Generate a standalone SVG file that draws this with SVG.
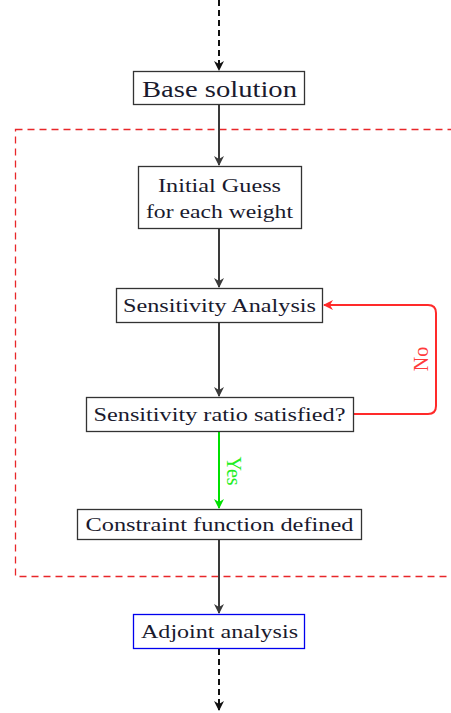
<svg xmlns="http://www.w3.org/2000/svg" width="451" height="713" viewBox="0 0 451 713">
  <style>
    .box { fill: #ffffff; stroke: #333333; stroke-width: 1.3; }
    .box-blue { fill: #ffffff; stroke: #0000ee; stroke-width: 1.3; }
    .label { font-family: "Liberation Serif", "DejaVu Serif", serif; fill: #1a1a2e; text-anchor: middle; }
    .edge { fill: none; stroke: #3a3a3a; stroke-width: 2; }
    .dashed { stroke: #111111; stroke-dasharray: 6 4; }
  </style>
  <defs>
    <marker id="arrow-black" viewBox="0 0 10 10" refX="9" refY="5" markerWidth="10" markerHeight="10" markerUnits="userSpaceOnUse" orient="auto">
      <path d="M0,0 L10,5 L0,10 L3,5 z" fill="#111111"/>
    </marker>
    <marker id="arrow-grey" viewBox="0 0 10 10" refX="9" refY="5" markerWidth="10" markerHeight="10" markerUnits="userSpaceOnUse" orient="auto">
      <path d="M0,0 L10,5 L0,10 L3,5 z" fill="#3a3a3a"/>
    </marker>
    <marker id="arrow-red" viewBox="0 0 10 10" refX="9" refY="5" markerWidth="10" markerHeight="10" markerUnits="userSpaceOnUse" orient="auto">
      <path d="M0,0 L10,5 L0,10 L3,5 z" fill="#ff2a2a"/>
    </marker>
    <marker id="arrow-green" viewBox="0 0 10 10" refX="9" refY="5" markerWidth="10" markerHeight="10" markerUnits="userSpaceOnUse" orient="auto">
      <path d="M0,0 L10,5 L0,10 L3,5 z" fill="#00e000"/>
    </marker>
  </defs>

  <rect width="451" height="713" fill="#ffffff"/>

  <!-- optimisation loop frame -->
  <rect id="loop-frame" x="15.5" y="129.5" width="460" height="447" fill="none" stroke="#e8272a" stroke-width="1.3" stroke-dasharray="7 5"/>

  <g id="connectors">
    <line class="edge dashed" x1="219" y1="0" x2="219" y2="70" marker-end="url(#arrow-black)"/>
    <line class="edge" x1="219" y1="105" x2="219" y2="165" marker-end="url(#arrow-grey)"/>
    <line class="edge" x1="219" y1="229" x2="219" y2="287" marker-end="url(#arrow-grey)"/>
    <line class="edge" x1="219" y1="323" x2="219" y2="396" marker-end="url(#arrow-grey)"/>
    <path d="M354,414 L428,414 Q436,414 436,406 L436,313 Q436,305 428,305 L324,305" fill="none" stroke="#ff2a2a" stroke-width="2" marker-end="url(#arrow-red)"/>
    <line x1="219" y1="432" x2="219" y2="508" stroke="#00e000" stroke-width="2" marker-end="url(#arrow-green)"/>
    <line class="edge" x1="219" y1="539" x2="219" y2="613" marker-end="url(#arrow-grey)"/>
    <line class="edge dashed" x1="219" y1="649" x2="219" y2="710" marker-end="url(#arrow-black)"/>
    <text transform="translate(428,359) rotate(-90)" font-family="Liberation Serif, DejaVu Serif, serif" font-size="20" fill="#ff3b3b" text-anchor="middle">No</text>
    <text transform="translate(227,471) rotate(90)" font-family="Liberation Serif, DejaVu Serif, serif" font-size="20" fill="#22ee22" text-anchor="middle">Yes</text>
  </g>

  <g id="base-solution">
    <rect class="box" x="133.5" y="71.5" width="171" height="33"/>
    <text class="label" x="219.5" y="97" font-size="23" textLength="155" lengthAdjust="spacingAndGlyphs">Base solution</text>
  </g>

  <g id="initial-guess">
    <rect class="box" x="138.5" y="166.5" width="163" height="62"/>
    <text class="label" x="219.5" y="192" font-size="19" textLength="123" lengthAdjust="spacingAndGlyphs">Initial Guess</text>
    <text class="label" x="219.5" y="218" font-size="19" textLength="147" lengthAdjust="spacingAndGlyphs">for each weight</text>
  </g>

  <g id="sensitivity-analysis">
    <rect class="box" x="116.5" y="288.5" width="206" height="34"/>
    <text class="label" x="219.5" y="312" font-size="19" textLength="193" lengthAdjust="spacingAndGlyphs">Sensitivity Analysis</text>
  </g>

  <g id="sensitivity-check">
    <rect class="box" x="86.5" y="397.5" width="267" height="34"/>
    <text class="label" x="219.5" y="421" font-size="19" textLength="252" lengthAdjust="spacingAndGlyphs">Sensitivity ratio satisfied?</text>
  </g>

  <g id="constraint-function">
    <rect class="box" x="77.5" y="509.5" width="284" height="30"/>
    <text class="label" x="219.5" y="531" font-size="19" textLength="268" lengthAdjust="spacingAndGlyphs">Constraint function defined</text>
  </g>

  <g id="adjoint-analysis">
    <rect class="box-blue" x="133.5" y="614.5" width="171" height="34"/>
    <text class="label" x="219.5" y="638" font-size="19" textLength="157" lengthAdjust="spacingAndGlyphs">Adjoint analysis</text>
  </g>
</svg>
